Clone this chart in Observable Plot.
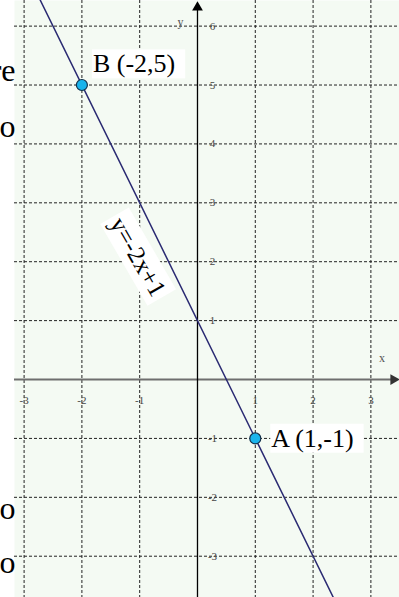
<!DOCTYPE html>
<html>
<head>
<meta charset="utf-8">
<script src="https://cdn.jsdelivr.net/npm/d3@7"></script>
<script src="https://cdn.jsdelivr.net/npm/@observablehq/plot@0.6"></script>
<style>
  html, body { margin: 0; padding: 0; background: #ffffff; }
  #chart svg { display: block; }
</style>
</head>
<body>
<div id="chart"></div>
<script>
// ---- data ----
const xTicks = [-3, -2, -1, 1, 2, 3];
const yTicks = [-3, -2, -1, 1, 2, 3, 4, 5, 6];
const xTickLabels = ["-3", "-2", "-1", "1", "2", "3"];
const yTickLabels = ["-3", "-2", "-1", "1", "2", "3", "4", "5", "6"];
const pointLabels = ["A (1,-1)", "B (-2,5)"];
const pointX = [1, -2];
const pointY = [-1, 5];
const lineX = [-3, 3];
const lineY = [7, -5];
const equationText = ["y=-2x+1"];
const equationX = [-0.55];
const equationY = [2.1];
const fragmentText = ["re", "o", "o", "o"];
const fragmentY = [5.06, 4.11, -2.36, -3.29];
const axisNames = ["x", "y"];

const serif = "'Liberation Serif', 'Times New Roman', serif";
const tickStyle = {fontFamily: serif, fontSize: 11, fill: "#444"};

const idxA = [0], idxB = [1];

const chart = Plot.plot({
  width: 399,
  height: 597,
  marginLeft: 14,
  marginRight: 0,
  marginTop: 0,
  marginBottom: 0,
  x: {domain: [-3.166, 3.495], axis: null},
  y: {domain: [-3.701, 6.435], axis: null},
  style: {background: "#ffffff", overflow: "visible"},
  marks: [
    Plot.frame({fill: "#f4faf3", stroke: "none"}),
    Plot.ruleX(xTicks, {stroke: "#222", strokeWidth: 1, strokeDasharray: "3,2"}),
    Plot.ruleY(yTicks, {stroke: "#222", strokeWidth: 1, strokeDasharray: "3,2"}),
    Plot.ruleY([0], {stroke: "#6e6e6e", strokeWidth: 2, insetRight: 6}),
    Plot.ruleX([0], {stroke: "#000", strokeWidth: 1.3, insetTop: 5}),
    Plot.dot([0], {x: d => d, frameAnchor: "top", dy: 7, symbol: "triangle", r: 4, fill: "#000", stroke: "none"}),
    Plot.dot([0], {y: d => d, frameAnchor: "right", dx: -6, rotate: 90, symbol: "triangle", r: 4, fill: "#333", stroke: "none"}),
    Plot.text(xTicks, {x: d => d, y: () => 0, text: (d, i) => xTickLabels[i], dy: 21, ...tickStyle}),
    Plot.text(yTicks, {x: () => 0, y: d => d, text: (d, i) => yTickLabels[i], dx: 15, ...tickStyle}),
    Plot.text([axisNames[0]], {x: () => 3, y: () => 0, text: d => d, dx: 11, dy: -21, fontFamily: serif, fontSize: 12, fill: "#555"}),
    Plot.text([axisNames[1]], {x: () => 0, y: () => 6, text: d => d, dx: -17, dy: -4, fontFamily: serif, fontSize: 12, fill: "#555"}),
    Plot.line(lineX.map((x, i) => ({x, y: lineY[i]})), {x: "x", y: "y", stroke: "#2a2a72", strokeWidth: 1.5, clip: true}),
    Plot.dot(pointX.map((x, i) => ({x, y: pointY[i]})), {x: "x", y: "y", r: 5.5, fill: "#1ab4ec", stroke: "#14304a", strokeWidth: 1.2}),
    Plot.text(idxB, {x: i => pointX[i], y: i => pointY[i], text: i => pointLabels[i], textAnchor: "start", dx: 11, dy: -21, fontFamily: serif, fontSize: 26, fill: "#000"}),
    Plot.text(idxA, {x: i => pointX[i], y: i => pointY[i], text: i => pointLabels[i], textAnchor: "start", dx: 16, dy: 0, fontFamily: serif, fontSize: 26, fill: "#000"}),
    Plot.text(equationText, {x: (d, i) => equationX[i], y: (d, i) => equationY[i], text: d => d, rotate: 60, dx: -28, dy: 1, fontFamily: serif, fontSize: 25, fill: "#000"}),
    Plot.text(fragmentText, {y: (d, i) => fragmentY[i], text: d => d, frameAnchor: "left", textAnchor: "end", lineAnchor: "bottom", dx: 1, fontFamily: serif, fontSize: 32, fill: "#000"})
  ]
});

document.getElementById("chart").appendChild(chart);

// white boxes behind the annotation labels, sized from the rendered text
const boxed = new Set([...pointLabels, ...equationText]);
chart.querySelectorAll("text").forEach(t => {
  if (!boxed.has(t.textContent)) return;
  const bb = t.getBBox();
  const rotated = t.textContent === equationText[0];
  const padL = rotated ? 4 : 1, padR = rotated ? 4 : 10, padT = rotated ? 3 : 0, padB = rotated ? 3 : 0;
  const r = document.createElementNS("http://www.w3.org/2000/svg", "rect");
  r.setAttribute("x", bb.x - padL);
  r.setAttribute("y", bb.y - padT);
  r.setAttribute("width", bb.width + padL + padR);
  r.setAttribute("height", bb.height + padT + padB);
  r.setAttribute("fill", "#ffffff");
  if (t.getAttribute("transform")) r.setAttribute("transform", t.getAttribute("transform"));
  t.parentNode.insertBefore(r, t);
});
</script>
</body>
</html>
